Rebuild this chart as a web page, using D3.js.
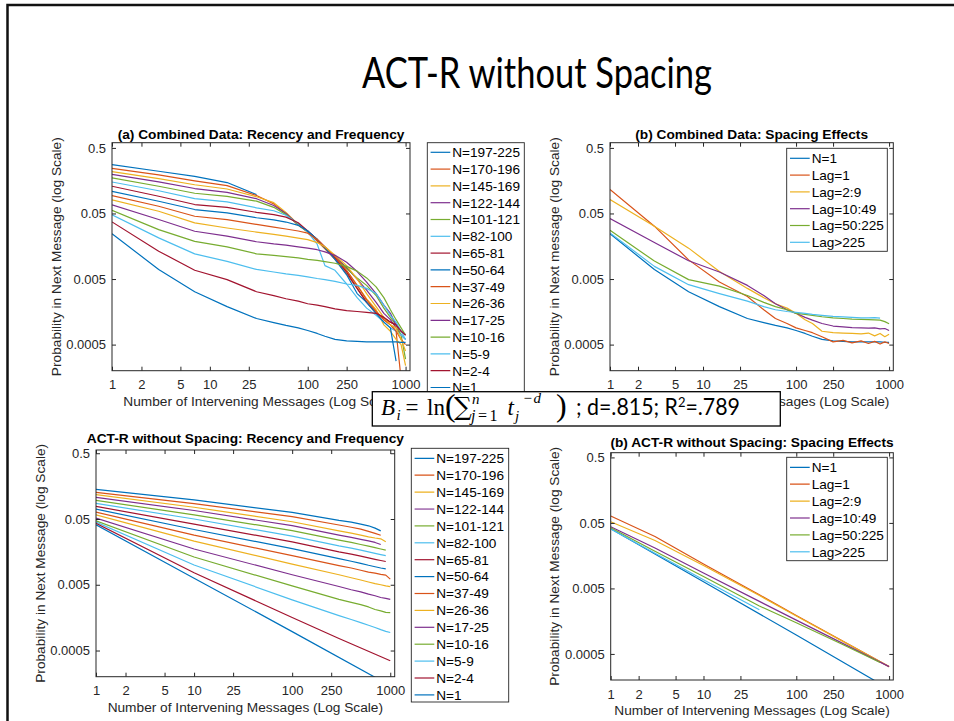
<!DOCTYPE html>
<html>
<head>
<meta charset="utf-8">
<script src="https://cdn.jsdelivr.net/npm/d3@7"></script>
<style>
  body { margin: 0; background: #fff; }
</style>
</head>
<body>
<div id="chart"></div>
<script>
// ---- tick values ----
const xTicks = [1, 2, 5, 10, 25, 100, 250, 1000];
const yTicks = [0.0005, 0.005, 0.05, 0.5];

const colors = ["#0072BD", "#D95319", "#EDB120", "#7E2F8E", "#77AC30", "#4DBEEE", "#A2142F"];

const binNames = ["N=197-225", "N=170-196", "N=145-169", "N=122-144", "N=101-121", "N=82-100", "N=65-81",
  "N=50-64", "N=37-49", "N=26-36", "N=17-25", "N=10-16", "N=5-9", "N=2-4", "N=1"];
const spacingNames = ["N=1", "Lag=1", "Lag=2:9", "Lag=10:49", "Lag=50:225", "Lag>225"];

// ---- combined data (top row) ----
const lagsData = [1, 3, 7, 15, 30, 45, 60, 80, 100, 125, 150, 190, 250, 320, 400, 500, 600, 700, 800, 900, 1000];

const dN197 = [0.278, 0.220, 0.184, 0.148, 0.097];
const dN170 = [0.244, 0.194, 0.157, 0.133, 0.094, 0.070, 0.050, 0.033, 0.026, 0.019, 0.0145, 0.0100, 0.0060, 0.0036, 0.0022, 0.0016, 0.0012, 0.0010, 0.0008, 0.00015];
const dN145 = [0.218, 0.170, 0.137, 0.118, 0.090, 0.073, 0.052, 0.034, 0.026, 0.020, 0.0150, 0.0105, 0.0066, 0.0040, 0.0025, 0.0017, 0.0010, 0.0008, 0.0006, 0.0005, 0.00024];
const dN122 = [0.198, 0.152, 0.120, 0.105, 0.084, 0.066, 0.050, 0.034, 0.027, 0.0200, 0.0155, 0.0110, 0.0075, 0.0050, 0.0034, 0.0022, 0.0015, 0.0012, 0.0009, 0.0007, 0.0006];
const dN101 = [0.174, 0.130, 0.1016, 0.0914, 0.077, 0.062, 0.048, 0.034, 0.026, 0.020, 0.0150, 0.0108, 0.0072, 0.0052, 0.0040, 0.0028, 0.0018, 0.0013, 0.0010, 0.0007, 0.0003];
const dN82 = [0.151, 0.111, 0.0844, 0.075, 0.061, 0.055, 0.047, 0.035, 0.026, 0.017, 0.0080, 0.0068, 0.0042, 0.0026, 0.0018, 0.0014, 0.0011, 0.0009, 0.0008, 0.0007, 0.0006];
const dN65 = [0.130, 0.0914, 0.0684, 0.062, 0.052, 0.048, 0.044, 0.036, 0.027, 0.020, 0.0150, 0.0105, 0.0064, 0.0036, 0.0022, 0.0015, 0.0013, 0.0011, 0.0010, 0.0008, 0.0007];
const dN50 = [0.109, 0.0767, 0.0574, 0.051, 0.043, 0.040, 0.037, 0.033, 0.027, 0.020, 0.0150, 0.0100, 0.0058, 0.0030, 0.0022, 0.0015, 0.0011, 0.0009, 0.00028];
const dN37 = [0.0937, 0.0644, 0.0453, 0.0404, 0.034, 0.031, 0.029, 0.027, 0.025, 0.020, 0.0155, 0.0110, 0.0068, 0.0040, 0.0024, 0.0016, 0.0012, 0.0010, 0.0008, 0.0006, 0.0005];
const dN26 = [0.0805, 0.054, 0.0359, 0.030, 0.026, 0.024, 0.0225, 0.021, 0.020, 0.018, 0.0155, 0.0115, 0.0080, 0.0050, 0.0030, 0.0019, 0.0013, 0.0010, 0.0009, 0.0006, 0.0004];
const dN17 = [0.0676, 0.0404, 0.0268, 0.0225, 0.0185, 0.0172, 0.0165, 0.0155, 0.0148, 0.0140, 0.0130, 0.0115, 0.0090, 0.0065, 0.0045, 0.0030, 0.0020, 0.0015, 0.0010, 0.0008, 0.0007];
const dN10 = [0.056, 0.0284, 0.0188, 0.0155, 0.0121, 0.0115, 0.0110, 0.0105, 0.0100, 0.0096, 0.0092, 0.0087, 0.0078, 0.0066, 0.0052, 0.0038, 0.0026, 0.0017, 0.0012, 0.0009, 0.0007];
const dN5 = [0.0476, 0.0212, 0.0121, 0.0093, 0.0070, 0.0064, 0.0060, 0.0057, 0.0054, 0.0051, 0.0049, 0.0046, 0.0042, 0.0040, 0.0036, 0.0030, 0.0020, 0.0014, 0.0011, 0.0008, 0.0006];
const dN2 = [0.0372, 0.0133, 0.0068, 0.0049, 0.0032, 0.0028, 0.0025, 0.0023, 0.0021, 0.0020, 0.0019, 0.00175, 0.00165, 0.0016, 0.00155, 0.0015, 0.0013, 0.0011, 0.0010, 0.0008, 0.0007];
const dN1 = [0.0245, 0.0070, 0.0032, 0.0019, 0.00125, 0.00108, 0.00098, 0.0009, 0.00082, 0.00074, 0.00067, 0.0006, 0.00057, 0.00056, 0.00055, 0.00055, 0.00055, 0.00055, 0.00055, 0.00054, 0.00054];

const dLag1 = [0.116, 0.032, 0.0098, 0.0045, 0.0027, 0.0017, 0.00125, 0.00105, 0.0009, 0.00082, 0.00076, 0.00066, 0.00055, 0.00058, 0.00053, 0.00057, 0.00052, 0.00056, 0.00051, 0.00055, 0.00052];
const dLag2 = [0.0815, 0.032, 0.0148, 0.0065, 0.0036, 0.0026, 0.0021, 0.0018, 0.0015, 0.0012, 0.00105, 0.0008, 0.00076, 0.00075, 0.00074, 0.00073, 0.00075, 0.00068, 0.00074, 0.00066, 0.00072];
const dLag10 = [0.0418, 0.018, 0.0095, 0.0064, 0.0040, 0.0028, 0.0021, 0.0017, 0.0015, 0.0013, 0.00118, 0.00105, 0.00096, 0.00093, 0.00091, 0.0009, 0.00089, 0.0009, 0.00087, 0.00088, 0.00082];
const dLag50 = [0.0277, 0.0094, 0.0049, 0.0039, 0.0028, 0.0022, 0.0019, 0.0017, 0.0015, 0.00145, 0.0014, 0.00133, 0.00128, 0.00125, 0.00122, 0.00121, 0.0012, 0.00119, 0.00118, 0.00112, 0.00104];
const dLag225 = [0.0253, 0.0078, 0.0041, 0.0030, 0.0023, 0.0019, 0.0017, 0.0016, 0.00155, 0.0015, 0.00145, 0.0014, 0.00135, 0.00132, 0.0013, 0.00128, 0.00128, 0.00129, 0.00127];

// ---- ACT-R model (bottom row) ----
const lagsModel = [1, 3, 10, 40, 100, 300, 400, 500, 600, 700, 800, 900, 1000];

const mN197 = [0.1413, null, 0.0975, null, 0.0630, 0.0475, 0.0449, 0.0418, 0.0394, 0.0363, 0.0330];
const mN170 = [0.127, null, 0.0859, null, 0.0542, 0.0405, 0.0375, 0.0350, 0.0325, 0.0302, 0.0283];
const mN145 = [0.117, null, 0.0755, null, 0.0454, 0.0330, 0.0305, 0.0285, 0.0268, 0.0257, 0.0250, 0.0225];
const mN122 = [0.1067, null, 0.0673, null, 0.0396, 0.0285, 0.0262, 0.0245, 0.0232, 0.0220, 0.0205];
const mN101 = [0.0961, null, 0.0578, null, 0.0333, 0.0238, 0.0220, 0.0205, 0.0193, 0.0183, 0.0175, 0.0168];
const mN82 = [0.0865, null, 0.050, null, 0.0275, 0.0195, 0.0180, 0.0168, 0.0158, 0.0150, 0.0144, 0.0139];
const mN65 = [0.0778, null, 0.0418, null, 0.0225, 0.0158, 0.0146, 0.0136, 0.0128, 0.0122, 0.0117, 0.0113];
const mN50 = [0.0708, null, 0.0346, null, 0.0177, 0.0125, 0.0114, 0.0106, 0.0099, 0.0094, 0.0090, 0.0087];
const mN37 = [0.0637, null, 0.0284, null, 0.0139, 0.0098, 0.0090, 0.0083, 0.0078, 0.0075, 0.0072, 0.0070, 0.0061];
const mN26 = [0.058, null, 0.0231, null, 0.0103, 0.0071, 0.0064, 0.0059, 0.0055, 0.0052, 0.0050, 0.0048, 0.0047];
const mN17 = [0.0516, null, 0.0175, null, 0.0071, 0.0047, 0.0042, 0.0039, 0.0036, 0.0034, 0.0032, 0.0031, 0.0030];
const mN10 = [0.047, null, 0.0132, null, 0.0048, 0.0030, 0.0027, 0.0025, 0.0023, 0.0021, 0.0020, 0.0019, 0.00188];
const mN5 = [0.0449, null, 0.0100, null, 0.00295, 0.00170, 0.00148, 0.00133, 0.00121, 0.00112, 0.00104, 0.00098, 0.00094];
const mN2 = [0.0429, null, 0.0076, null, 0.00159, 0.00076, null, null, null, null, null, null, 0.00035];
const mN1 = [0.0408, null, 0.0063, null, 0.00097, null, null, null, null, null, null, null, 0.000146];

const mLag1 = [0.0637, 0.031, 0.0118, 0.0040, 0.00193, null, null, null, null, null, null, null, 0.00032];
const mLag2 = [0.0521, 0.027, 0.0112, 0.0039, 0.0019, null, null, null, null, null, null, null, 0.00032];
const mLag10 = [0.0438, 0.0207, 0.0086, 0.00317, 0.00164, null, null, null, null, null, null, null, 0.00032];
const mLag50 = [0.0423, 0.0185, 0.0076, 0.0027, 0.0015, 0.00072, null, null, null, null, 0.00037];
const mLag225 = [0.0404, 0.0172, 0.0068, 0.00237];

const recencyData = [dN197, dN170, dN145, dN122, dN101, dN82, dN65, dN50, dN37, dN26, dN17, dN10, dN5, dN2, dN1];
const spacingData = [dN1, dLag1, dLag2, dLag10, dLag50, dLag225];
const recencyModel = [mN197, mN170, mN145, mN122, mN101, mN82, mN65, mN50, mN37, mN26, mN17, mN10, mN5, mN2, mN1];
const spacingModel = [mN1, mLag1, mLag2, mLag10, mLag50, mLag225];

const sans = "'Liberation Sans', Arial, Helvetica, sans-serif";
const ink = "#262626";

// formula box geometry (it covers parts of the top row, as on the slide)
const box = { x: 372.3, y: 391.7, w: 408, h: 34.3 };

const svg = d3.select("#chart").append("svg")
  .attr("width", 954)
  .attr("height", 721)
  .style("display", "block");

svg.append("rect").attr("width", 954).attr("height", 721).attr("fill", "#fff");

svg.append("clipPath").attr("id", "outside-box")
  .append("path")
  .attr("clip-rule", "evenodd")
  .attr("d", `M0,0H954V721H0Z M${box.x},${box.y}h${box.w}v${box.h}h${-box.w}Z`);

// slide frame
svg.append("path")
  .attr("d", "M7.5,721V5H954")
  .attr("fill", "none")
  .attr("stroke", "#111")
  .attr("stroke-width", 2.5);

svg.append("text")
  .attr("x", 537)
  .attr("y", 88)
  .attr("text-anchor", "middle")
  .attr("font-family", "Lato, 'Open Sans', sans-serif")
  .attr("font-size", 43)
  .attr("textLength", 350)
  .attr("lengthAdjust", "spacingAndGlyphs")
  .attr("fill", "#000")
  .text("ACT-R without Spacing");

function drawPanel(p) {
  const x = d3.scaleLog().domain([1, 1110]).range([p.left, p.right]);
  const y = d3.scaleLog().domain([0.0002, p.yMax]).range([p.bottom, p.top]);
  const g = svg.append("g");

  g.append("rect")
    .attr("x", p.left).attr("y", p.top)
    .attr("width", p.right - p.left).attr("height", p.bottom - p.top)
    .attr("fill", "#fff");

  const clipId = "clip-" + p.key;
  svg.append("clipPath").attr("id", clipId)
    .append("rect")
    .attr("x", p.left).attr("y", p.top)
    .attr("width", p.right - p.left).attr("height", p.bottom - p.top);

  const line = d3.line().x(d => x(d[0])).y(d => y(d[1]));
  p.series.forEach((vals, i) => {
    const pts = p.lags.map((l, j) => [l, vals[j]]).filter(d => d[1] != null);
    g.append("path")
      .attr("d", line(pts))
      .attr("fill", "none")
      .attr("stroke", colors[i % colors.length])
      .attr("stroke-width", 1.2)
      .attr("stroke-linejoin", "round")
      .attr("clip-path", `url(#${clipId})`);
  });

  // axes, ticks pointing inward like MATLAB
  const axB = d3.axisBottom(x).tickValues(xTicks).tickFormat(d => String(d))
    .tickSizeInner(-4).tickSizeOuter(0).tickPadding(9.5);
  const axT = d3.axisTop(x).tickValues(xTicks).tickFormat("")
    .tickSizeInner(-4).tickSizeOuter(0);
  const axL = d3.axisLeft(y).tickValues(yTicks).tickFormat(d => String(d))
    .tickSizeInner(-4).tickSizeOuter(0).tickPadding(6);
  const axR = d3.axisRight(y).tickValues(yTicks).tickFormat("")
    .tickSizeInner(-4).tickSizeOuter(0);

  const gb = g.append("g").attr("transform", `translate(0,${p.bottom})`).call(axB);
  const gt = g.append("g").attr("transform", `translate(0,${p.top})`).call(axT);
  const gl = g.append("g").attr("transform", `translate(${p.left},0)`).call(axL);
  const gr = g.append("g").attr("transform", `translate(${p.right},0)`).call(axR);
  [gb, gt, gl, gr].forEach(a => {
    a.style("color", ink).attr("font-family", sans).attr("font-size", 13);
    a.select(".domain").remove();
  });

  g.append("rect")
    .attr("x", p.left).attr("y", p.top)
    .attr("width", p.right - p.left).attr("height", p.bottom - p.top)
    .attr("fill", "none")
    .attr("stroke", ink)
    .attr("stroke-width", 1);

  const cx = (p.left + p.right) / 2;
  g.append("text")
    .attr("x", cx).attr("y", p.titleY)
    .attr("text-anchor", "middle")
    .attr("font-family", sans).attr("font-size", 13.7).attr("font-weight", "bold")
    .attr("fill", "#000")
    .text(p.title);

  g.append("text")
    .attr("x", cx).attr("y", p.bottom + 34.8)
    .attr("text-anchor", "middle")
    .attr("font-family", sans).attr("font-size", 13.7)
    .attr("fill", ink)
    .attr("clip-path", "url(#outside-box)")
    .text("Number of Intervening Messages (Log Scale)");

  const cy = (p.top + p.bottom) / 2;
  g.append("text")
    .attr("transform", `translate(${p.left - 56},${cy}) rotate(-90)`)
    .attr("text-anchor", "middle")
    .attr("dy", "0.35em")
    .attr("font-family", sans).attr("font-size", 13.7)
    .attr("fill", ink)
    .text(p.ylabel);

  // legend
  const lg = p.legend;
  const leg = svg.append("g").attr("clip-path", "url(#outside-box)");
  leg.append("rect")
    .attr("x", lg.x).attr("y", lg.y).attr("width", lg.w).attr("height", lg.h)
    .attr("fill", "#fff").attr("stroke", ink).attr("stroke-width", 0.9);
  p.names.forEach((name, i) => {
    const yy = lg.row0 + i * lg.step;
    leg.append("line")
      .attr("x1", lg.x + 3.3).attr("x2", lg.x + 23)
      .attr("y1", yy).attr("y2", yy)
      .attr("stroke", colors[i % colors.length]).attr("stroke-width", 1.2);
    leg.append("text")
      .attr("x", lg.x + 25).attr("y", yy).attr("dy", "0.36em")
      .attr("font-family", sans).attr("font-size", 13.6)
      .attr("fill", "#000")
      .text(name);
  });
}

drawPanel({
  key: "a", left: 112, top: 142.7, right: 410, bottom: 370.7, yMax: 0.6,
  lags: lagsData, series: recencyData, names: binNames,
  title: "(a) Combined Data: Recency and Frequency", titleY: 138.5,
  ylabel: "Probability in Next Message (log Scale)",
  legend: { x: 427.3, y: 142.7, w: 97, h: 253.3, row0: 152.3, step: 16.8 }
});
drawPanel({
  key: "b", left: 610, top: 142.7, right: 893.3, bottom: 370.7, yMax: 0.6,
  lags: lagsData, series: spacingData, names: spacingNames,
  title: "(b) Combined Data: Spacing Effects", titleY: 138.5,
  ylabel: "Probability in Next message (log Scale)",
  legend: { x: 786.7, y: 148.3, w: 100.6, h: 103, row0: 158.3, step: 16.8 }
});
drawPanel({
  key: "c", left: 96, top: 450, right: 394.7, bottom: 676.7, yMax: 0.56,
  lags: lagsModel, series: recencyModel, names: binNames,
  title: "ACT-R without Spacing: Recency and Frequency", titleY: 442.7,
  ylabel: "Probability in Next Message (log Scale)",
  legend: { x: 411.3, y: 448.3, w: 97.4, h: 253.7, row0: 458.3, step: 16.9 }
});
drawPanel({
  key: "d", left: 610.7, top: 452.7, right: 893.3, bottom: 680, yMax: 0.59,
  lags: lagsModel, series: spacingModel, names: spacingNames,
  title: "(b) ACT-R without Spacing: Spacing Effects", titleY: 446.7,
  ylabel: "Probability in Next Message (log Scale)",
  legend: { x: 786.7, y: 457.3, w: 100.6, h: 103.4, row0: 467.3, step: 16.9 }
});

// formula box on top of everything
const serif = "'Liberation Serif', 'DejaVu Serif', serif";
const fm = svg.append("g");
fm.append("rect")
  .attr("x", box.x).attr("y", box.y).attr("width", box.w).attr("height", box.h)
  .attr("fill", "#fff").attr("stroke", "#000").attr("stroke-width", 1.3);

const mathParts = [
  { t: "B", x: 381, y: 415, s: 23, it: true },
  { t: "i", x: 396.5, y: 419.5, s: 15, it: true },
  { t: "=", x: 405.5, y: 415, s: 23 },
  { t: "ln", x: 427, y: 415, s: 23 },
  { t: "(", x: 445, y: 416, s: 32 },
  { t: "\u2211", x: 454, y: 415, s: 25, f: "'DejaVu Serif', serif" },
  { t: "n", x: 472, y: 403.5, s: 15, it: true },
  { t: "t", x: 507.5, y: 415, s: 23, it: true },
  { t: "j", x: 515, y: 420.5, s: 15, it: true },
  { t: ")", x: 556, y: 416, s: 32 }
];
mathParts.forEach(m => {
  fm.append("text")
    .attr("x", m.x).attr("y", m.y)
    .attr("font-family", m.f || serif)
    .attr("font-size", m.s)
    .attr("font-style", m.it ? "italic" : "normal")
    .attr("fill", "#000")
    .text(m.t);
});
const sub = fm.append("text").attr("x", 471).attr("y", 421)
  .attr("font-family", serif).attr("font-size", 16).attr("fill", "#000");
sub.append("tspan").attr("font-style", "italic").text("j");
sub.append("tspan").attr("dx", 2.5).text("=");
sub.append("tspan").attr("dx", 2.5).text("1");
const sup = fm.append("text").attr("x", 523.5).attr("y", 403)
  .attr("font-family", serif).attr("font-size", 15).attr("fill", "#000");
sup.append("tspan").text("\u2212");
sup.append("tspan").attr("dx", 1.5).attr("font-style", "italic").text("d");

const stats = fm.append("text").attr("x", 576).attr("y", 415)
  .attr("font-family", "Lato, 'Open Sans', sans-serif").attr("font-size", 23).attr("fill", "#000")
  .attr("textLength", 164).attr("lengthAdjust", "spacingAndGlyphs");
stats.append("tspan").text("; d=.815; R");
stats.append("tspan").attr("dy", -8).attr("font-size", 14).text("2");
stats.append("tspan").attr("dy", 8).text("=.789");
</script>
</body>
</html>
